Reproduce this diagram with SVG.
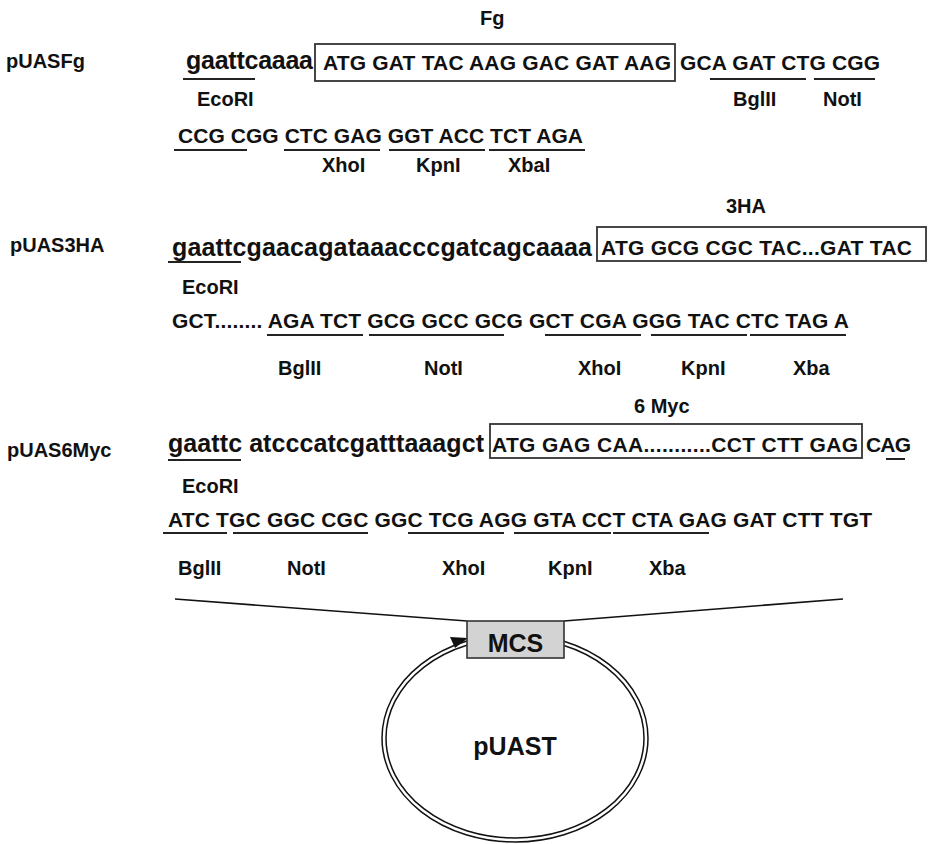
<svg xmlns="http://www.w3.org/2000/svg" width="928" height="844" viewBox="0 0 928 844">
<style>
text{font-family:"Liberation Sans",Arial,sans-serif;font-weight:bold;fill:#111}
.lab{font-size:20px}
.up{font-size:21px}
.lo{font-size:25px}
.ul{stroke:#222;stroke-width:2}
.box{fill:none;stroke:#333;stroke-width:1.8}
.ln{stroke:#111;stroke-width:1.6;fill:none}
.ring{fill:none;stroke:#111;stroke-width:1.5}
</style>
<rect width="928" height="844" fill="#fff"/>

<g id="pUASFg">
  <text class="lab" x="6" y="68">pUASFg</text>
  <text class="lab" x="480" y="25">Fg</text>
  <text class="lo" x="186" y="69" textLength="127" lengthAdjust="spacing">gaattcaaaa</text>
  <rect class="box" x="315" y="44" width="360" height="37"/>
  <text class="up" x="323" y="70" textLength="348" lengthAdjust="spacing">ATG GAT TAC AAG GAC GAT AAG</text>
  <text class="up" x="680" y="70" textLength="200" lengthAdjust="spacing">GCA GAT CTG CGG</text>
  <line class="ul" x1="183" y1="79" x2="255" y2="79"/>
  <line class="ul" x1="710" y1="79" x2="806" y2="79"/>
  <line class="ul" x1="814" y1="79" x2="875" y2="79"/>
  <text class="lab" x="197" y="106">EcoRI</text>
  <text class="lab" x="733" y="106">BglII</text>
  <text class="lab" x="823" y="106">NotI</text>
  <text class="up" x="178" y="143" textLength="405" lengthAdjust="spacing">CCG CGG CTC GAG GGT ACC TCT AGA</text>
  <line class="ul" x1="174" y1="150" x2="247" y2="150"/>
  <line class="ul" x1="284" y1="150" x2="380" y2="150"/>
  <line class="ul" x1="389" y1="150" x2="485" y2="150"/>
  <line class="ul" x1="489" y1="150" x2="585" y2="150"/>
  <text class="lab" x="322" y="172">XhoI</text>
  <text class="lab" x="416" y="172">KpnI</text>
  <text class="lab" x="508" y="172">XbaI</text>
</g>

<g id="pUAS3HA">
  <text class="lab" x="726" y="213">3HA</text>
  <text class="lab" x="10" y="252">pUAS3HA</text>
  <text class="lo" x="172" y="256" textLength="420" lengthAdjust="spacing">gaattcgaacagataaacccgatcagcaaaa</text>
  <line class="ul" x1="168" y1="262" x2="241" y2="262"/>
  <rect class="box" x="597" y="227" width="329" height="34"/>
  <text class="up" x="601" y="255" textLength="311" lengthAdjust="spacing">ATG GCG CGC TAC...GAT TAC</text>
  <text class="lab" x="182" y="294">EcoRI</text>
  <text class="up" x="172" y="328" textLength="677" lengthAdjust="spacing">GCT........ AGA TCT GCG GCC GCG GCT CGA GGG TAC CTC TAG A</text>
  <line class="ul" x1="267" y1="335" x2="363" y2="335"/>
  <line class="ul" x1="369" y1="335" x2="504" y2="335"/>
  <line class="ul" x1="545" y1="335" x2="641" y2="335"/>
  <line class="ul" x1="651" y1="335" x2="747" y2="335"/>
  <line class="ul" x1="750" y1="335" x2="846" y2="335"/>
  <text class="lab" x="278" y="375">BglII</text>
  <text class="lab" x="424" y="375">NotI</text>
  <text class="lab" x="578" y="375">XhoI</text>
  <text class="lab" x="681" y="375">KpnI</text>
  <text class="lab" x="793" y="375">Xba</text>
</g>

<g id="pUAS6Myc">
  <text class="lab" x="634" y="413">6 Myc</text>
  <text class="lab" x="7" y="457">pUAS6Myc</text>
  <text class="lo" x="168" y="452" textLength="316" lengthAdjust="spacing">gaattc atcccatcgatttaaagct</text>
  <line class="ul" x1="168" y1="460" x2="241" y2="460"/>
  <rect class="box" x="490" y="424" width="372" height="34"/>
  <text class="up" x="492" y="452" textLength="366" lengthAdjust="spacing">ATG GAG CAA...........CCT CTT GAG</text>
  <text class="up" x="866" y="452" textLength="45" lengthAdjust="spacing">CAG</text>
  <line class="ul" x1="886" y1="459" x2="905" y2="459"/>
  <text class="lab" x="182" y="493">EcoRI</text>
  <text class="up" x="168" y="527" textLength="704" lengthAdjust="spacing">ATC TGC GGC CGC GGC TCG AGG GTA CCT CTA GAG GAT CTT TGT</text>
  <line class="ul" x1="163" y1="533" x2="227" y2="533"/>
  <line class="ul" x1="233" y1="533" x2="368" y2="533"/>
  <line class="ul" x1="408" y1="533" x2="504" y2="533"/>
  <line class="ul" x1="514" y1="533" x2="611" y2="533"/>
  <line class="ul" x1="613" y1="533" x2="709" y2="533"/>
  <text class="lab" x="178" y="575">BglII</text>
  <text class="lab" x="287" y="575">NotI</text>
  <text class="lab" x="442" y="575">XhoI</text>
  <text class="lab" x="548" y="575">KpnI</text>
  <text class="lab" x="649" y="575">Xba</text>
</g>

<g id="connectors">
  <line class="ln" x1="175" y1="599" x2="467" y2="621"/>
  <line class="ln" x1="564" y1="621" x2="843" y2="599"/>
  <polygon points="468,638 450,637 455,648" fill="#111"/>
</g>

<g id="pUAST">
  <ellipse class="ring" cx="515" cy="738" rx="133" ry="104"/>
  <ellipse class="ring" cx="515" cy="738" rx="129" ry="100"/>
  <text x="515" y="755" text-anchor="middle" style="font-size:25px">pUAST</text>
</g>

<g id="MCS">
  <rect x="467" y="621" width="97" height="37" fill="#d3d3d3" stroke="#333" stroke-width="1.6"/>
  <text x="515.5" y="652" text-anchor="middle" style="font-size:25px">MCS</text>
</g>
</svg>
